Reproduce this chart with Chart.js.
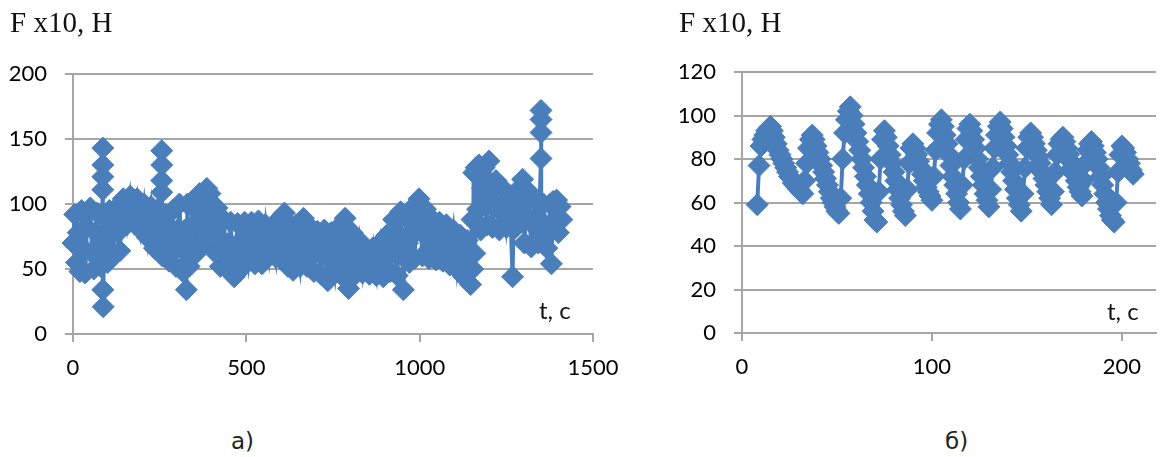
<!DOCTYPE html>
<html>
<head>
<meta charset="utf-8">
<script src="https://cdn.jsdelivr.net/npm/chart.js@4.4.1/dist/chart.umd.min.js"></script>
<style>
  body { margin: 0; background: #fff; width: 1168px; height: 457px; position: relative; overflow: hidden; }
  canvas { position: absolute; top: 0; }
  .ttl { position: absolute; top: 8px; font-family: "Liberation Serif"; font-size: 29px; line-height: 29px; color: #111; white-space: nowrap; }
  .unit { position: absolute; font-family: Lato; font-size: 24px; line-height: 24px; color: #111; white-space: nowrap; }
  .cap { position: absolute; top: 430px; font-family: "DejaVu Sans"; font-size: 23px; line-height: 23px; color: #222; }
</style>
</head>
<body>
<canvas id="chartA" width="640" height="400" style="left:0"></canvas>
<canvas id="chartB" width="488" height="400" style="left:680px"></canvas>

<div class="ttl" style="left:10px">F x10, H</div>
<div class="ttl" style="left:679px">F x10, H</div>
<div class="unit" style="left:539px; top:298px">t, c</div>
<div class="unit" style="left:1107px; top:299px">t, c</div>
<div class="cap" style="left:231px">а)</div>
<div class="cap" style="left:945px">б)</div>

<script>
// chart a) : t, c  /  F x10, H
const timeA = [
  0, 5, 10, 15, 20, 25, 30, 35, 40, 45,
  50, 55, 60, 65, 70, 75, 80, 86, 86, 86,
  86, 86, 87, 90, 95, 100, 105, 110, 115, 120,
  125, 130, 135, 140, 145, 150, 155, 160, 165, 170,
  175, 180, 185, 190, 195, 200, 205, 210, 215, 220,
  225, 230, 235, 240, 245, 250, 256, 256, 256, 256,
  258, 262, 267, 272, 277, 282, 287, 292, 297, 302,
  307, 312, 317, 322, 327, 330, 335, 340, 345, 350,
  355, 360, 365, 370, 375, 380, 386, 390, 395, 400,
  405, 410, 415, 420, 425, 430, 435, 440, 445, 450,
  455, 460, 465, 470, 475, 480, 485, 490, 495, 500,
  505, 510, 515, 520, 525, 530, 535, 540, 545, 550,
  555, 560, 565, 570, 575, 580, 585, 590, 600, 605,
  610, 615, 620, 625, 630, 635, 640, 645, 650, 655,
  660, 665, 670, 675, 680, 685, 690, 695, 700, 705,
  710, 715, 720, 725, 730, 735, 740, 745, 750, 755,
  760, 765, 770, 775, 780, 785, 790, 795, 800, 805,
  810, 815, 820, 825, 830, 835, 840, 845, 850, 855,
  860, 865, 870, 875, 880, 885, 890, 895, 900, 905,
  910, 915, 920, 925, 930, 935, 940, 945, 950, 953,
  960, 965, 970, 975, 980, 985, 990, 998, 1003, 1008,
  1012, 1017, 1022, 1027, 1032, 1037, 1042, 1047, 1052, 1057,
  1062, 1067, 1072, 1077, 1082, 1087, 1092, 1097, 1102, 1107,
  1112, 1117, 1122, 1127, 1132, 1137, 1142, 1147, 1151, 1153,
  1156, 1159, 1163, 1167, 1171, 1176, 1181, 1186, 1191, 1195,
  1200, 1205, 1210, 1215, 1220, 1225, 1230, 1235, 1240, 1245,
  1250, 1255, 1260, 1268, 1272, 1277, 1282, 1287, 1292, 1297,
  1302, 1307, 1312, 1317, 1322, 1327, 1332, 1337, 1342, 1350,
  1350, 1350, 1350, 1352, 1357, 1362, 1367, 1372, 1377, 1380,
  1385, 1390, 1395, 1400, 1405, 1410
];
const forceA = [
  70, 92, 55, 78, 48, 95, 66, 47, 82, 94,
  97, 62, 50, 78, 93, 60, 52, 111, 121, 130,
  143, 34, 21, 90, 66, 55, 95, 76, 60, 82,
  97, 78, 64, 86, 104, 92, 84, 96, 106, 95,
  86, 96, 104, 92, 80, 90, 100, 86, 74, 88,
  98, 82, 66, 80, 96, 84, 109, 118, 130, 141,
  60, 76, 92, 70, 56, 82, 95, 68, 52, 80,
  100, 66, 48, 80, 34, 100, 52, 74, 98, 84,
  62, 86, 108, 88, 68, 96, 112, 78, 108, 90,
  64, 80, 97, 75, 52, 72, 88, 66, 50, 70,
  86, 60, 44, 68, 85, 64, 50, 72, 86, 66,
  56, 74, 86, 66, 54, 74, 87, 66, 54, 72,
  84, 70, 60, 76, 83, 68, 59, 78, 90, 58,
  93, 72, 52, 84, 64, 49, 74, 84, 62, 52,
  70, 89, 66, 52, 72, 82, 62, 48, 66, 79,
  62, 46, 70, 80, 60, 41, 66, 78, 56, 47,
  68, 82, 58, 45, 72, 89, 56, 35, 62, 78,
  58, 46, 64, 72, 56, 47, 60, 64, 52, 46,
  58, 66, 52, 45, 62, 70, 54, 44, 64, 76,
  60, 48, 72, 88, 62, 45, 76, 94, 60, 34,
  90, 70, 55, 96, 76, 58, 86, 104, 80, 60,
  78, 96, 74, 58, 76, 88, 68, 57, 74, 86,
  68, 56, 74, 84, 64, 53, 70, 80, 62, 50,
  64, 76, 58, 44, 62, 72, 52, 38, 88, 50,
  124, 62, 128, 96, 130, 80, 112, 128, 98, 84,
  133, 112, 82, 100, 118, 96, 80, 98, 112, 94,
  82, 94, 106, 44, 105, 82, 96, 112, 104, 119,
  70, 90, 110, 88, 67, 84, 102, 86, 70, 135,
  155, 165, 172, 80, 100, 84, 66, 82, 100, 54,
  102, 86, 103, 78, 98, 88
];
const ticksA = [0, 500, 1000, 1500];

// chart б)
const timeB = [
  8, 9, 10, 11, 12, 13, 14, 15, 16, 17,
  18, 19, 20, 21, 22, 23, 24, 25, 26, 27,
  28, 29, 30, 31, 32, 33, 34, 35, 36, 37,
  38, 39, 40, 41, 42, 43, 44, 45, 46, 47,
  48, 49, 50, 51, 52, 53, 54, 55, 56, 57,
  58, 59, 60, 61, 62, 63, 64, 65, 66, 67,
  68, 69, 70, 71, 72, 73, 74, 75, 76, 77,
  78, 79, 80, 81, 82, 83, 84, 85, 86, 87,
  88, 89, 90, 91, 92, 93, 94, 95, 96, 97,
  98, 99, 100, 101, 102, 103, 104, 105, 106, 107,
  108, 109, 110, 111, 112, 113, 114, 115, 116, 117,
  118, 119, 120, 121, 122, 123, 124, 125, 126, 127,
  128, 129, 130, 131, 132, 133, 134, 135, 136, 137,
  138, 139, 140, 141, 142, 143, 144, 145, 146, 147,
  148, 149, 150, 151, 152, 153, 154, 155, 156, 157,
  158, 159, 160, 161, 162, 163, 164, 165, 166, 167,
  168, 169, 170, 171, 172, 173, 174, 175, 176, 177,
  178, 179, 180, 181, 182, 183, 184, 185, 186, 187,
  188, 189, 190, 191, 192, 193, 194, 195, 196, 197,
  198, 199, 200, 201, 202, 203, 204, 205, 206
];
const forceB = [
  59, 77, 86, 89, 91, 93, 94, 95, 93, 90,
  87, 84, 82, 80, 78, 76, 74, 72, 71, 69,
  68, 67, 66, 65, 64, 70, 78, 85, 89, 91,
  89, 86, 83, 80, 77, 74, 71, 68, 65, 62,
  60, 58, 56, 55, 62, 80, 92, 98, 102, 104,
  100, 96, 92, 88, 84, 80, 76, 72, 68, 64,
  60, 56, 52, 51, 65, 80, 89, 93, 90, 86,
  82, 78, 74, 70, 66, 62, 59, 56, 54, 66,
  78, 85, 87, 85, 82, 79, 76, 73, 70, 67,
  65, 63, 61, 72, 84, 92, 96, 98, 95, 91,
  87, 82, 77, 72, 68, 64, 60, 57, 68, 80,
  89, 94, 96, 93, 89, 85, 80, 76, 72, 68,
  64, 61, 58, 66, 76, 85, 91, 95, 97, 94,
  90, 86, 82, 78, 74, 70, 66, 62, 59, 56,
  64, 76, 85, 90, 92, 90, 87, 84, 81, 78,
  74, 71, 68, 65, 62, 59, 65, 74, 82, 87,
  89, 90, 88, 85, 82, 79, 76, 73, 70, 67,
  65, 63, 70, 78, 84, 87, 88, 86, 83, 80,
  76, 72, 68, 64, 60, 57, 54, 52, 51, 60,
  74, 82, 86, 85, 83, 80, 78, 75, 73
];
const ticksB = [0, 100, 200];

const blue = '#4a7ebb';
const gridColor = '#a6a6a6';
const tickFont = { family: 'Lato', size: 22 };

function buildChart(id, times, forces, cfg) {
  const points = times.map((t, i) => ({ x: t, y: forces[i] }));
  return new Chart(document.getElementById(id), {
    type: 'scatter',
    data: {
      datasets: [{
        data: points,
        showLine: true,
        borderColor: blue,
        borderWidth: 4,
        pointStyle: 'rectRot',
        pointRadius: 11,
        pointBackgroundColor: blue,
        pointBorderColor: blue,
        pointBorderWidth: 1,
        clip: false
      }]
    },
    options: {
      responsive: false,
      animation: false,
      layout: { padding: cfg.padding },
      plugins: { legend: { display: false }, tooltip: { enabled: false } },
      scales: {
        x: {
          type: 'linear',
          min: 0,
          max: cfg.xMax,
          afterBuildTicks: s => { s.ticks = cfg.xTicks.map(v => ({ value: v })); },
          afterFit: s => { s.height = cfg.xHeight; },
          grid: { drawOnChartArea: false, color: gridColor, lineWidth: 2, tickLength: 8 },
          border: { color: gridColor, width: 2 },
          ticks: { font: tickFont, color: '#000', padding: 13, maxRotation: 0, autoSkip: false, callback: v => String(v) }
        },
        y: {
          min: 0,
          max: cfg.yMax,
          afterFit: s => { s.width = cfg.yWidth; },
          grid: { color: gridColor, lineWidth: 2, tickLength: 8 },
          border: { color: gridColor, width: 2 },
          ticks: { stepSize: cfg.yStep, font: tickFont, color: '#000', padding: 18, callback: v => String(v) }
        }
      }
    }
  });
}

buildChart('chartA', timeA, forceA, {
  xMax: 1500, xTicks: ticksA, yMax: 200, yStep: 50,
  yWidth: 73, xHeight: 66,
  padding: { top: 74, right: 47, bottom: 0, left: 0 }
});

buildChart('chartB', timeB, forceB, {
  xMax: 218, xTicks: ticksB, yMax: 120, yStep: 20,
  yWidth: 62, xHeight: 67,
  padding: { top: 72, right: 0, bottom: 0, left: 0 }
});
</script>
</body>
</html>
